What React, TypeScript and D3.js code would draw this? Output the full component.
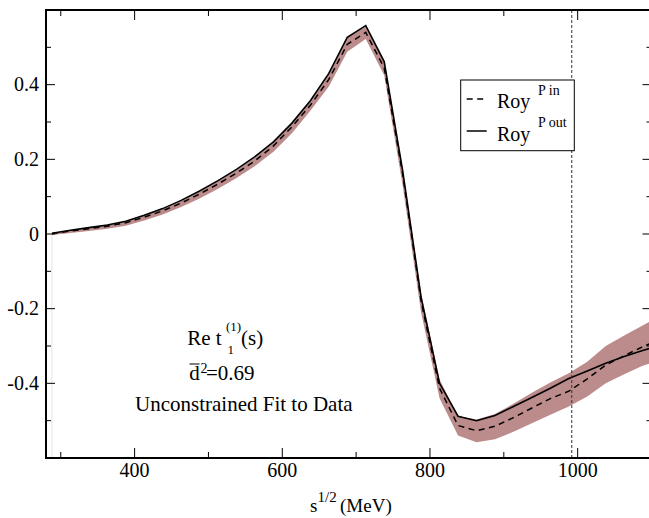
import React from "react";
import * as d3 from "d3";

// energies (MeV)
const energies = [288, 313, 338, 363, 388, 413, 438, 463, 488, 513, 538, 563, 588, 613, 638, 663, 688, 713, 738, 763, 788, 813, 838, 863, 888, 913, 938, 963, 988, 1013, 1038, 1063, 1088, 1100];
// Roy P out (solid)
const royOut = [0.002, 0.010, 0.017, 0.024, 0.034, 0.050, 0.068, 0.090, 0.115, 0.143, 0.173, 0.207, 0.247, 0.297, 0.357, 0.43, 0.527, 0.558, 0.462, 0.17, -0.17, -0.40, -0.488, -0.500, -0.486, -0.462, -0.438, -0.413, -0.387, -0.367, -0.346, -0.328, -0.312, -0.305];
// Roy P in (dashed)
const royIn = [0.001, 0.008, 0.014, 0.021, 0.030, 0.045, 0.062, 0.083, 0.107, 0.134, 0.163, 0.196, 0.236, 0.287, 0.345, 0.414, 0.508, 0.540, 0.445, 0.16, -0.18, -0.413, -0.513, -0.527, -0.515, -0.492, -0.466, -0.441, -0.421, -0.388, -0.351, -0.326, -0.302, -0.292];
// uncertainty band
const bandLow = [-0.003, 0.003, 0.008, 0.014, 0.022, 0.036, 0.052, 0.072, 0.095, 0.121, 0.150, 0.182, 0.220, 0.270, 0.330, 0.395, 0.488, 0.522, 0.425, 0.13, -0.21, -0.44, -0.54, -0.558, -0.55, -0.53, -0.507, -0.484, -0.462, -0.435, -0.40, -0.376, -0.353, -0.345];
const bandHigh = [0.003, 0.011, 0.018, 0.025, 0.034, 0.050, 0.067, 0.089, 0.113, 0.141, 0.171, 0.205, 0.246, 0.296, 0.357, 0.430, 0.527, 0.555, 0.462, 0.175, -0.16, -0.39, -0.488, -0.497, -0.482, -0.455, -0.425, -0.398, -0.373, -0.342, -0.30, -0.272, -0.245, -0.232];

const xMajorTicks = [400, 600, 800, 1000];
const xMinorTicks = [300, 500, 700, 900, 1100];
const yMajorTicks = [-0.4, -0.2, 0, 0.2, 0.4];
const yMinorTicks = [-0.5, -0.3, -0.1, 0.1, 0.3, 0.5];
const yTickLabels = ["-0.4", "-0.2", "0", "0.2", "0.4"];
const thresholdEnergy = 992;

const FS = { fontFamily: "Liberation Serif" };

export default function App() {
  const x = d3.scaleLinear().domain([280, 1100]).range([46, 651.5]);
  const y = d3.scaleLinear().domain([-0.6, 0.6]).range([458, 10]);

  const idx = energies.map((_, i) => i);
  const area = d3
    .area<number>()
    .x((i) => x(energies[i]))
    .y0((i) => y(bandLow[i]))
    .y1((i) => y(bandHigh[i]));
  const lineOut = d3
    .line<number>()
    .x((i) => x(energies[i]))
    .y((i) => y(royOut[i]));
  const lineIn = d3
    .line<number>()
    .x((i) => x(energies[i]))
    .y((i) => y(royIn[i]));

  const left = x(280);
  const right = x(1100);
  const top = y(0.6);
  const bottom = y(-0.6);

  return (
    <svg width={649} height={518} style={{ position: "fixed", left: 0, top: 0 }}>
      <rect x={0} y={0} width={649} height={518} fill="#fff" />
      <line x1={x(energies[0])} x2={x(energies[0])} y1={y(0)} y2={bottom} stroke="#f2dede" strokeWidth={1} />
      <path d={area(idx) || ""} fill="#bc8b8b" stroke="none" />
      <path d={lineIn(idx) || ""} fill="none" stroke="#000" strokeWidth={1.5} strokeDasharray="6,4.5" />
      <path d={lineOut(idx) || ""} fill="none" stroke="#000" strokeWidth={1.6} />

      <line x1={x(thresholdEnergy)} x2={x(thresholdEnergy)} y1={top} y2={bottom} stroke="#333" strokeWidth={1} strokeDasharray="3,2" />

      {xMajorTicks.map((t) => (
        <g key={"xM" + t}>
          <line x1={x(t)} x2={x(t)} y1={bottom} y2={bottom - 10} stroke="#000" strokeWidth={1} />
          <line x1={x(t)} x2={x(t)} y1={top} y2={top + 10} stroke="#000" strokeWidth={1} />
          <text x={x(t)} y={bottom + 18.5} textAnchor="middle" fontSize={20} fontFamily="Liberation Serif" style={FS}>
            {t}
          </text>
        </g>
      ))}
      {xMinorTicks.map((t) => (
        <g key={"xm" + t}>
          <line x1={x(t)} x2={x(t)} y1={bottom} y2={bottom - 6} stroke="#000" strokeWidth={1} />
          <line x1={x(t)} x2={x(t)} y1={top} y2={top + 6} stroke="#000" strokeWidth={1} />
        </g>
      ))}
      {yMajorTicks.map((t, i) => (
        <g key={"yM" + t}>
          <line x1={left} x2={left + 9} y1={y(t)} y2={y(t)} stroke="#000" strokeWidth={1} />
          <line x1={right} x2={right - 9} y1={y(t)} y2={y(t)} stroke="#000" strokeWidth={1} />
          <text x={39} y={y(t) + 6.5} textAnchor="end" fontSize={20} fontFamily="Liberation Serif" style={FS}>
            {yTickLabels[i]}
          </text>
        </g>
      ))}
      {yMinorTicks.map((t) => (
        <g key={"ym" + t}>
          <line x1={left} x2={left + 5} y1={y(t)} y2={y(t)} stroke="#000" strokeWidth={1} />
          <line x1={right} x2={right - 5} y1={y(t)} y2={y(t)} stroke="#000" strokeWidth={1} />
        </g>
      ))}

      <rect x={left} y={top} width={right - left} height={bottom - top} fill="none" stroke="#000" strokeWidth={2} />

      <rect x={460.7} y={80} width={113.6} height={70.7} fill="#fff" stroke="#000" strokeWidth={1} />
      <line x1={466.7} x2={486.7} y1={99} y2={99} stroke="#000" strokeWidth={1.5} strokeDasharray="6,4.5" />
      <text x={497} y={108} fontSize={20} fontFamily="Liberation Serif" style={FS}>Roy</text>
      <text x={538} y={95} fontSize={14} fontFamily="Liberation Serif" style={FS}>P in</text>
      <line x1={466.7} x2={486.7} y1={131} y2={131} stroke="#000" strokeWidth={1.5} />
      <text x={497} y={141} fontSize={20} fontFamily="Liberation Serif" style={FS}>Roy</text>
      <text x={538} y={127} fontSize={14} fontFamily="Liberation Serif" style={FS}>P out</text>

      <text x={187.3} y={345} fontSize={21} fontFamily="Liberation Serif" style={FS}>Re t</text>
      <text x={226} y={331} fontSize={13} fontFamily="Liberation Serif" style={FS}>(1)</text>
      <text x={227.5} y={354} fontSize={13} fontFamily="Liberation Serif" style={FS}>1</text>
      <text x={241} y={345} fontSize={21} fontFamily="Liberation Serif" style={FS}>(s)</text>

      <text x={189.3} y={380} fontSize={21} fontFamily="Liberation Serif" style={FS}>d</text>
      <line x1={189.5} x2={199.5} y1={364} y2={364} stroke="#000" strokeWidth={1} />
      <text x={200.5} y={372.7} fontSize={14} fontFamily="Liberation Serif" style={FS}>2</text>
      <text x={206} y={380} fontSize={21} fontFamily="Liberation Serif" style={FS}>=0.69</text>

      <text x={135} y={410.7} fontSize={21} fontFamily="Liberation Serif" style={FS}>Unconstrained Fit to Data</text>

      <text x={310} y={511.7} fontSize={19} fontFamily="Liberation Serif" style={FS}>s</text>
      <text x={317.5} y={501.5} fontSize={15} fontFamily="Liberation Serif" style={FS}>1/2</text>
      <text x={340} y={511.7} fontSize={19} fontFamily="Liberation Serif" style={FS}>(MeV)</text>
    </svg>
  );
}
